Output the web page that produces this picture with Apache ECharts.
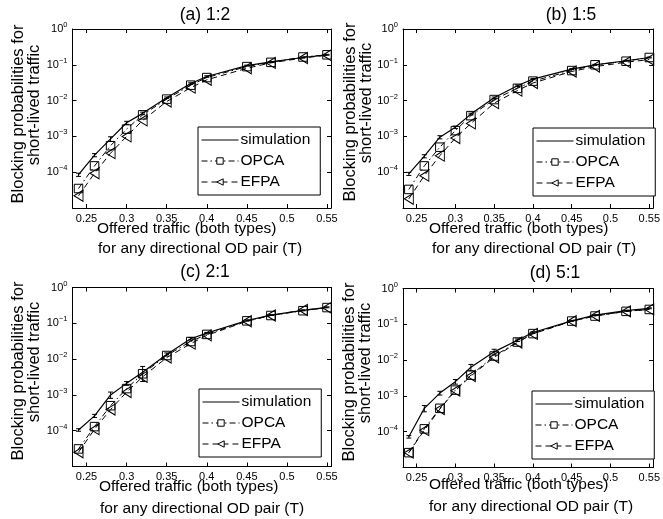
<!DOCTYPE html>
<html><head><meta charset="utf-8">
<script src="https://cdn.jsdelivr.net/npm/echarts@6/dist/echarts.min.js"></script>
<style>html,body{margin:0;padding:0;background:#fff}#c{width:663px;height:519px}</style>
</head><body><div id="c"></div>
<script>
const xVals = [0.24,0.26,0.28,0.30,0.32,0.35,0.38,0.40,0.45,0.48,0.52,0.55];
const xTicks = [0.25,0.3,0.35,0.4,0.45,0.5,0.55];
const yTicks = [1e-4,1e-3,1e-2,1e-1,1];
const titles = ['(a) 1:2','(b) 1:5','(c) 2:1','(d) 5:1'];
const legendNames = ['simulation','OPCA','EFPA'];
const xLabel1 = 'Offered traffic (both types)';
const xLabel2 = 'for any directional OD pair (T)';
const yLabel1 = 'Blocking probabilities for';
const yLabel2 = 'short-lived traffic';

const simA  = [8.5e-5,3.0e-4,8.5e-4,2.4e-3,4.4e-3,1.2e-2,3.0e-2,4.7e-2,9.5e-2,0.12,0.16,0.19];
const opcaA = [3.5e-5,1.5e-4,5.5e-4,1.6e-3,4.0e-3,1.1e-2,2.7e-2,4.4e-2,8.9e-2,0.117,0.165,0.19];
const efpaA = [2.2e-5,9.3e-5,3.4e-4,1.0e-3,2.8e-3,9.4e-3,2.3e-2,3.8e-2,8.0e-2,0.113,0.155,0.185];
const errA  = [0.1,0.1,0.15,0.1,0.08,0.05,0.05,0.05,0.03,0.03,0.03,0.03];

const simB  = [9.0e-5,2.8e-4,9.5e-4,1.8e-3,4.2e-3,1.2e-2,2.6e-2,4.0e-2,7.6e-2,0.10,0.13,0.16];
const opcaB = [3.3e-5,1.5e-4,5.0e-4,1.45e-3,3.8e-3,1.07e-2,2.2e-2,3.5e-2,6.9e-2,0.10,0.126,0.16];
const efpaB = [1.8e-5,8.0e-5,2.9e-4,9.0e-4,2.3e-3,8.5e-3,1.9e-2,3.1e-2,6.5e-2,8.9e-2,0.118,0.14];
const errB  = [0.1,0.1,0.1,0.08,0.06,0.05,0.05,0.04,0.03,0.03,0.03,0.03];

const simC  = [1.05e-4,2.6e-4,1.0e-3,2.1e-3,4.3e-3,1.35e-2,3.7e-2,5.3e-2,0.12,0.17,0.23,0.28];
const opcaC = [3.1e-5,1.3e-4,5.0e-4,1.5e-3,3.9e-3,1.26e-2,3.1e-2,4.9e-2,0.117,0.165,0.225,0.275];
const efpaC = [2.5e-5,1.1e-4,3.9e-4,1.2e-3,3.2e-3,1.1e-2,2.7e-2,4.6e-2,0.114,0.165,0.235,0.27];
const errC  = [0.08,0.1,0.2,0.12,0.45,0.1,0.08,0.05,0.04,0.03,0.03,0.03];

const simD  = [7.2e-5,4.5e-4,1.2e-3,2.5e-3,6.3e-3,1.7e-2,3.6e-2,5.9e-2,0.125,0.18,0.24,0.28];
const opcaD = [2.6e-5,1.2e-4,4.5e-4,1.45e-3,3.8e-3,1.3e-2,3.2e-2,5.5e-2,0.123,0.17,0.23,0.26];
const efpaD = [2.6e-5,1.1e-4,4.3e-4,1.4e-3,3.6e-3,1.2e-2,3.1e-2,5.4e-2,0.122,0.172,0.23,0.26];
const errD  = [0.08,0.2,0.12,0.15,0.2,0.18,0.08,0.05,0.03,0.03,0.03,0.03];

const panels = [
  {sim:simA, opca:opcaA, efpa:efpaA, err:errA},
  {sim:simB, opca:opcaB, efpa:efpaB, err:errB},
  {sim:simC, opca:opcaC, efpa:efpaC, err:errC},
  {sim:simD, opca:opcaD, efpa:efpaD, err:errD}
];

const FONT = 'Liberation Sans, Arial, sans-serif';
const grids = [
  {left:72.5, top:29, width:258.5, height:179},
  {left:403, top:29, width:257, height:179},
  {left:72.5, top:287.5, width:258.5, height:179},
  {left:403, top:288.5, width:257, height:179}
];
const titlePos = [[205,15],[571,15],[205,272],[555,273]];
const yLab1Pos = [[18,114],[350,112],[18,371],[349,372]];
const yLab2Pos = [[34,105],[366,103],[34,362],[365,363]];
const xLab1Pos = [[97,229],[429,229],[99,487],[429,485]];
const xLab2Pos = [[98,249],[432,249],[100,509],[429,507]];
const legendPos = [[198,127],[533,128],[199,389],[532,391]];

const xAxes = [], yAxes = [], series = [], legends = [], graphics = [];
const tickStyle = {show:true, inside:true, length:4, lineStyle:{color:'#000', width:1}};
const lineStyleAx = {show:true, onZero:false, lineStyle:{color:'#000', width:1}};

function yFmt(v){
  const e = Math.round(Math.log10(v));
  return '{b|10}{s|' + (e < 0 ? '\u2212' + (-e) : e) + '}';
}

panels.forEach((p, i) => {
  xAxes.push({type:'value', gridIndex:i, position:'bottom', min:0.2325, max:0.555,
    axisLine:lineStyleAx, splitLine:{show:false},
    axisTick:Object.assign({customValues:xTicks}, tickStyle),
    axisLabel:{customValues:xTicks, color:'#000', fontSize:11, fontFamily:FONT, margin:5,
      formatter: v => String(+v.toFixed(2))}});
  xAxes.push({type:'value', gridIndex:i, position:'top', min:0.2325, max:0.555,
    axisLine:lineStyleAx, splitLine:{show:false},
    axisTick:Object.assign({customValues:xTicks}, tickStyle),
    axisLabel:{show:false}});
  yAxes.push({type:'log', logBase:10, gridIndex:i, position:'left', min:1e-5, max:1,
    axisLine:lineStyleAx, splitLine:{show:false},
    axisTick:Object.assign({customValues:yTicks}, tickStyle),
    axisLabel:{customValues:yTicks, color:'#000', fontFamily:FONT, margin:5, formatter:yFmt,
      rich:{b:{fontSize:11, fontFamily:FONT, color:'#000'},
            s:{fontSize:7.5, fontFamily:FONT, color:'#000', padding:[0,0,8,0]}}}});
  yAxes.push({type:'log', logBase:10, gridIndex:i, position:'right', min:1e-5, max:1,
    axisLine:lineStyleAx, splitLine:{show:false},
    axisTick:Object.assign({customValues:yTicks}, tickStyle),
    axisLabel:{show:false}});

  const xi = i*2, yi = i*2;
  series.push({name:'simulation', type:'line', xAxisIndex:xi, yAxisIndex:yi,
    data: xVals.map((x,k)=>[x,p.sim[k]]), showSymbol:false, symbol:'none',
    lineStyle:{color:'#000', width:1.2}, itemStyle:{color:'#000'}, z:5});
  series.push({name:'OPCA', type:'line', xAxisIndex:xi, yAxisIndex:yi,
    data: xVals.map((x,k)=>[x,p.opca[k]]), symbol:'rect', symbolSize:8.5,
    lineStyle:{color:'#000', width:1, type:[6,3,1.5,3]},
    itemStyle:{color:'rgba(255,255,255,0)', borderColor:'#000', borderWidth:1}, z:4});
  series.push({name:'EFPA', type:'line', xAxisIndex:xi, yAxisIndex:yi,
    data: xVals.map((x,k)=>[x,p.efpa[k]]), symbol:'path://M0,6 L10,0 L10,12 Z', symbolSize:[9,11],
    lineStyle:{color:'#000', width:1, type:[6,4]},
    itemStyle:{color:'rgba(255,255,255,0)', borderColor:'#000', borderWidth:1}, z:3});
  series.push({type:'custom', xAxisIndex:xi, yAxisIndex:yi, silent:true, z:6,
    data: xVals.map((x,k)=>[x, p.sim[k]*(1-p.err[k]), p.sim[k]*(1+p.err[k])]),
    renderItem:(params, api) => {
      const lo = api.coord([api.value(0), api.value(1)]);
      const hi = api.coord([api.value(0), api.value(2)]);
      const w = 2.5;
      const st = {stroke:'#000', lineWidth:1};
      return {type:'group', children:[
        {type:'line', shape:{x1:lo[0], y1:lo[1], x2:hi[0], y2:hi[1]}, style:st},
        {type:'line', shape:{x1:lo[0]-w, y1:lo[1], x2:lo[0]+w, y2:lo[1]}, style:st},
        {type:'line', shape:{x1:hi[0]-w, y1:hi[1], x2:hi[0]+w, y2:hi[1]}, style:st}
      ]};
    }});

  legends.push({
    data:[
      {name:legendNames[0], itemStyle:{opacity:0}, lineStyle:{width:1, color:'#000', type:'solid'}},
      {name:legendNames[1], itemStyle:{color:'#fff', borderColor:'#000', borderWidth:1}, lineStyle:{width:1, color:'#000', type:[6,3,1.5,3]}},
      {name:legendNames[2], itemStyle:{color:'#fff', borderColor:'#000', borderWidth:1}, lineStyle:{width:1, color:'#000', type:[6,4]}}
    ],
    orient:'vertical', left:legendPos[i][0], top:legendPos[i][1],
    itemWidth:37, itemHeight:8, itemGap:5, padding:[5,10,5,3],
    borderColor:'#000', borderWidth:1, backgroundColor:'#fff', selectedMode:false,
    textStyle:{fontSize:15.5, fontFamily:FONT, color:'#000', padding:[0,0,0,-3]}});

  graphics.push({type:'text', x:titlePos[i][0], y:titlePos[i][1],
    style:{text:titles[i], font:'17.5px '+FONT, fill:'#000', textAlign:'center', textVerticalAlign:'middle'}});
  graphics.push({type:'text', x:yLab1Pos[i][0], y:yLab1Pos[i][1], rotation:Math.PI/2,
    style:{text:yLabel1, font:'16.5px '+FONT, fill:'#000', textAlign:'center', textVerticalAlign:'middle'}});
  graphics.push({type:'text', x:yLab2Pos[i][0], y:yLab2Pos[i][1], rotation:Math.PI/2,
    style:{text:yLabel2, font:'16.5px '+FONT, fill:'#000', textAlign:'center', textVerticalAlign:'middle'}});
  graphics.push({type:'text', x:xLab1Pos[i][0], y:xLab1Pos[i][1],
    style:{text:xLabel1, font:'15.5px '+FONT, fill:'#000', textAlign:'left', textVerticalAlign:'middle'}});
  graphics.push({type:'text', x:xLab2Pos[i][0], y:xLab2Pos[i][1],
    style:{text:xLabel2, font:'15.5px '+FONT, fill:'#000', textAlign:'left', textVerticalAlign:'middle'}});
});

const chart = echarts.init(document.getElementById('c'), null, {renderer:'canvas'});
chart.setOption({
  animation:false,
  backgroundColor:'#fff',
  grid: grids.map(g => Object.assign({containLabel:false}, g)),
  xAxis: xAxes, yAxis: yAxes, series: series, legend: legends, graphic: graphics
});
</script></body></html>
